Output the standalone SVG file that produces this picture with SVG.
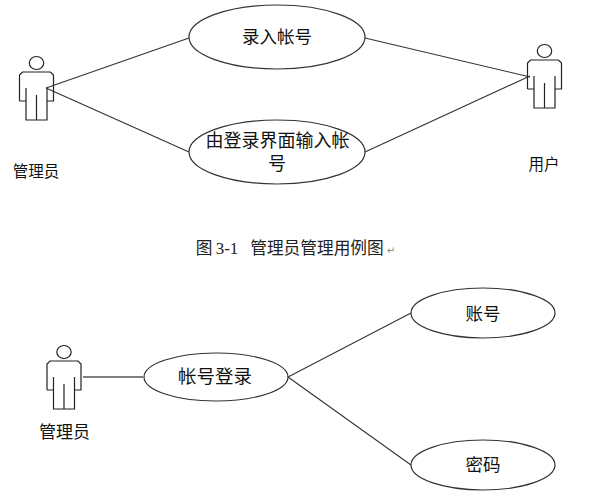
<svg xmlns="http://www.w3.org/2000/svg" width="597" height="501" viewBox="0 0 597 501">
<defs>
<g id="actor" fill="none" stroke="#222" stroke-width="1.2">
<ellipse cx="0" cy="-9" rx="7.2" ry="6.5"/>
<path d="M-17 29V3L-14 0H14L17 3V29H10.500V16M-17 29H-10.500V16M-10.500 29V48H10.500V29M0 23V48"/>
</g>
</defs>
<style>
.uc{fill:#fff;stroke:#333;stroke-width:1.200}
.c{fill:none;stroke:#333;stroke-width:1.100}
text{font-family:"Noto Sans CJK SC","Liberation Sans",sans-serif;fill:#111;text-anchor:middle}
.s{font-size:15.500px}
.s2{font-size:17px}
.m{font-size:17.500px}
.w{font-size:18px}
.l{font-size:18.500px}
.cap{font-size:16.700px;fill:#222}
.num{font-family:"Liberation Serif",serif;font-size:17px;fill:#222}
.ret{font-family:"DejaVu Sans",sans-serif;font-size:10px;fill:#888}
</style>
<rect width="597" height="501" fill="#fff"/>
<g id="connectors">
<path class="c" d="M46 88L189 38M46 88L189 152M365 38L530 77M365 152L530 76M288 377L411 313M288 377L411 465"/>
<path d="M83 377H143" fill="none" stroke="#555" stroke-width="1.600"/>
</g>
<g id="actor-admin-1"><use href="#actor" x="36.500" y="72"/><text class="s" x="36" y="177">管理员</text></g>
<g id="actor-user"><use href="#actor" x="544.500" y="60"/><text class="s" x="544" y="170">用户</text></g>
<g id="actor-admin-2"><use href="#actor" x="64" y="361"/><text class="s2" x="64.500" y="438">管理员</text></g>
<g id="uc-enter"><ellipse class="uc" cx="277" cy="37" rx="88" ry="32"/><text class="m" x="277" y="43">录入帐号</text></g>
<g id="uc-login-ui"><ellipse class="uc" cx="277" cy="152" rx="88" ry="32"/><text class="w"><tspan x="277.500" y="147">由登录界面输入帐</tspan><tspan x="277" y="170">号</tspan></text></g>
<g id="uc-account-login"><ellipse class="uc" cx="216" cy="377" rx="72" ry="24"/><text class="l" x="215" y="383">帐号登录</text></g>
<g id="uc-account"><ellipse class="uc" cx="483" cy="313" rx="72" ry="25"/><text class="m" x="483" y="320">账号</text></g>
<g id="uc-password"><ellipse class="uc" cx="483" cy="465" rx="72" ry="25"/><text class="m" x="483" y="471">密码</text></g>
<g id="caption"><text class="cap" x="204" y="254">图</text><text class="num" x="227" y="254">3-1</text><text class="cap" x="317" y="254">管理员管理用例图</text><text class="ret" x="391" y="254">↵</text></g>
</svg>
